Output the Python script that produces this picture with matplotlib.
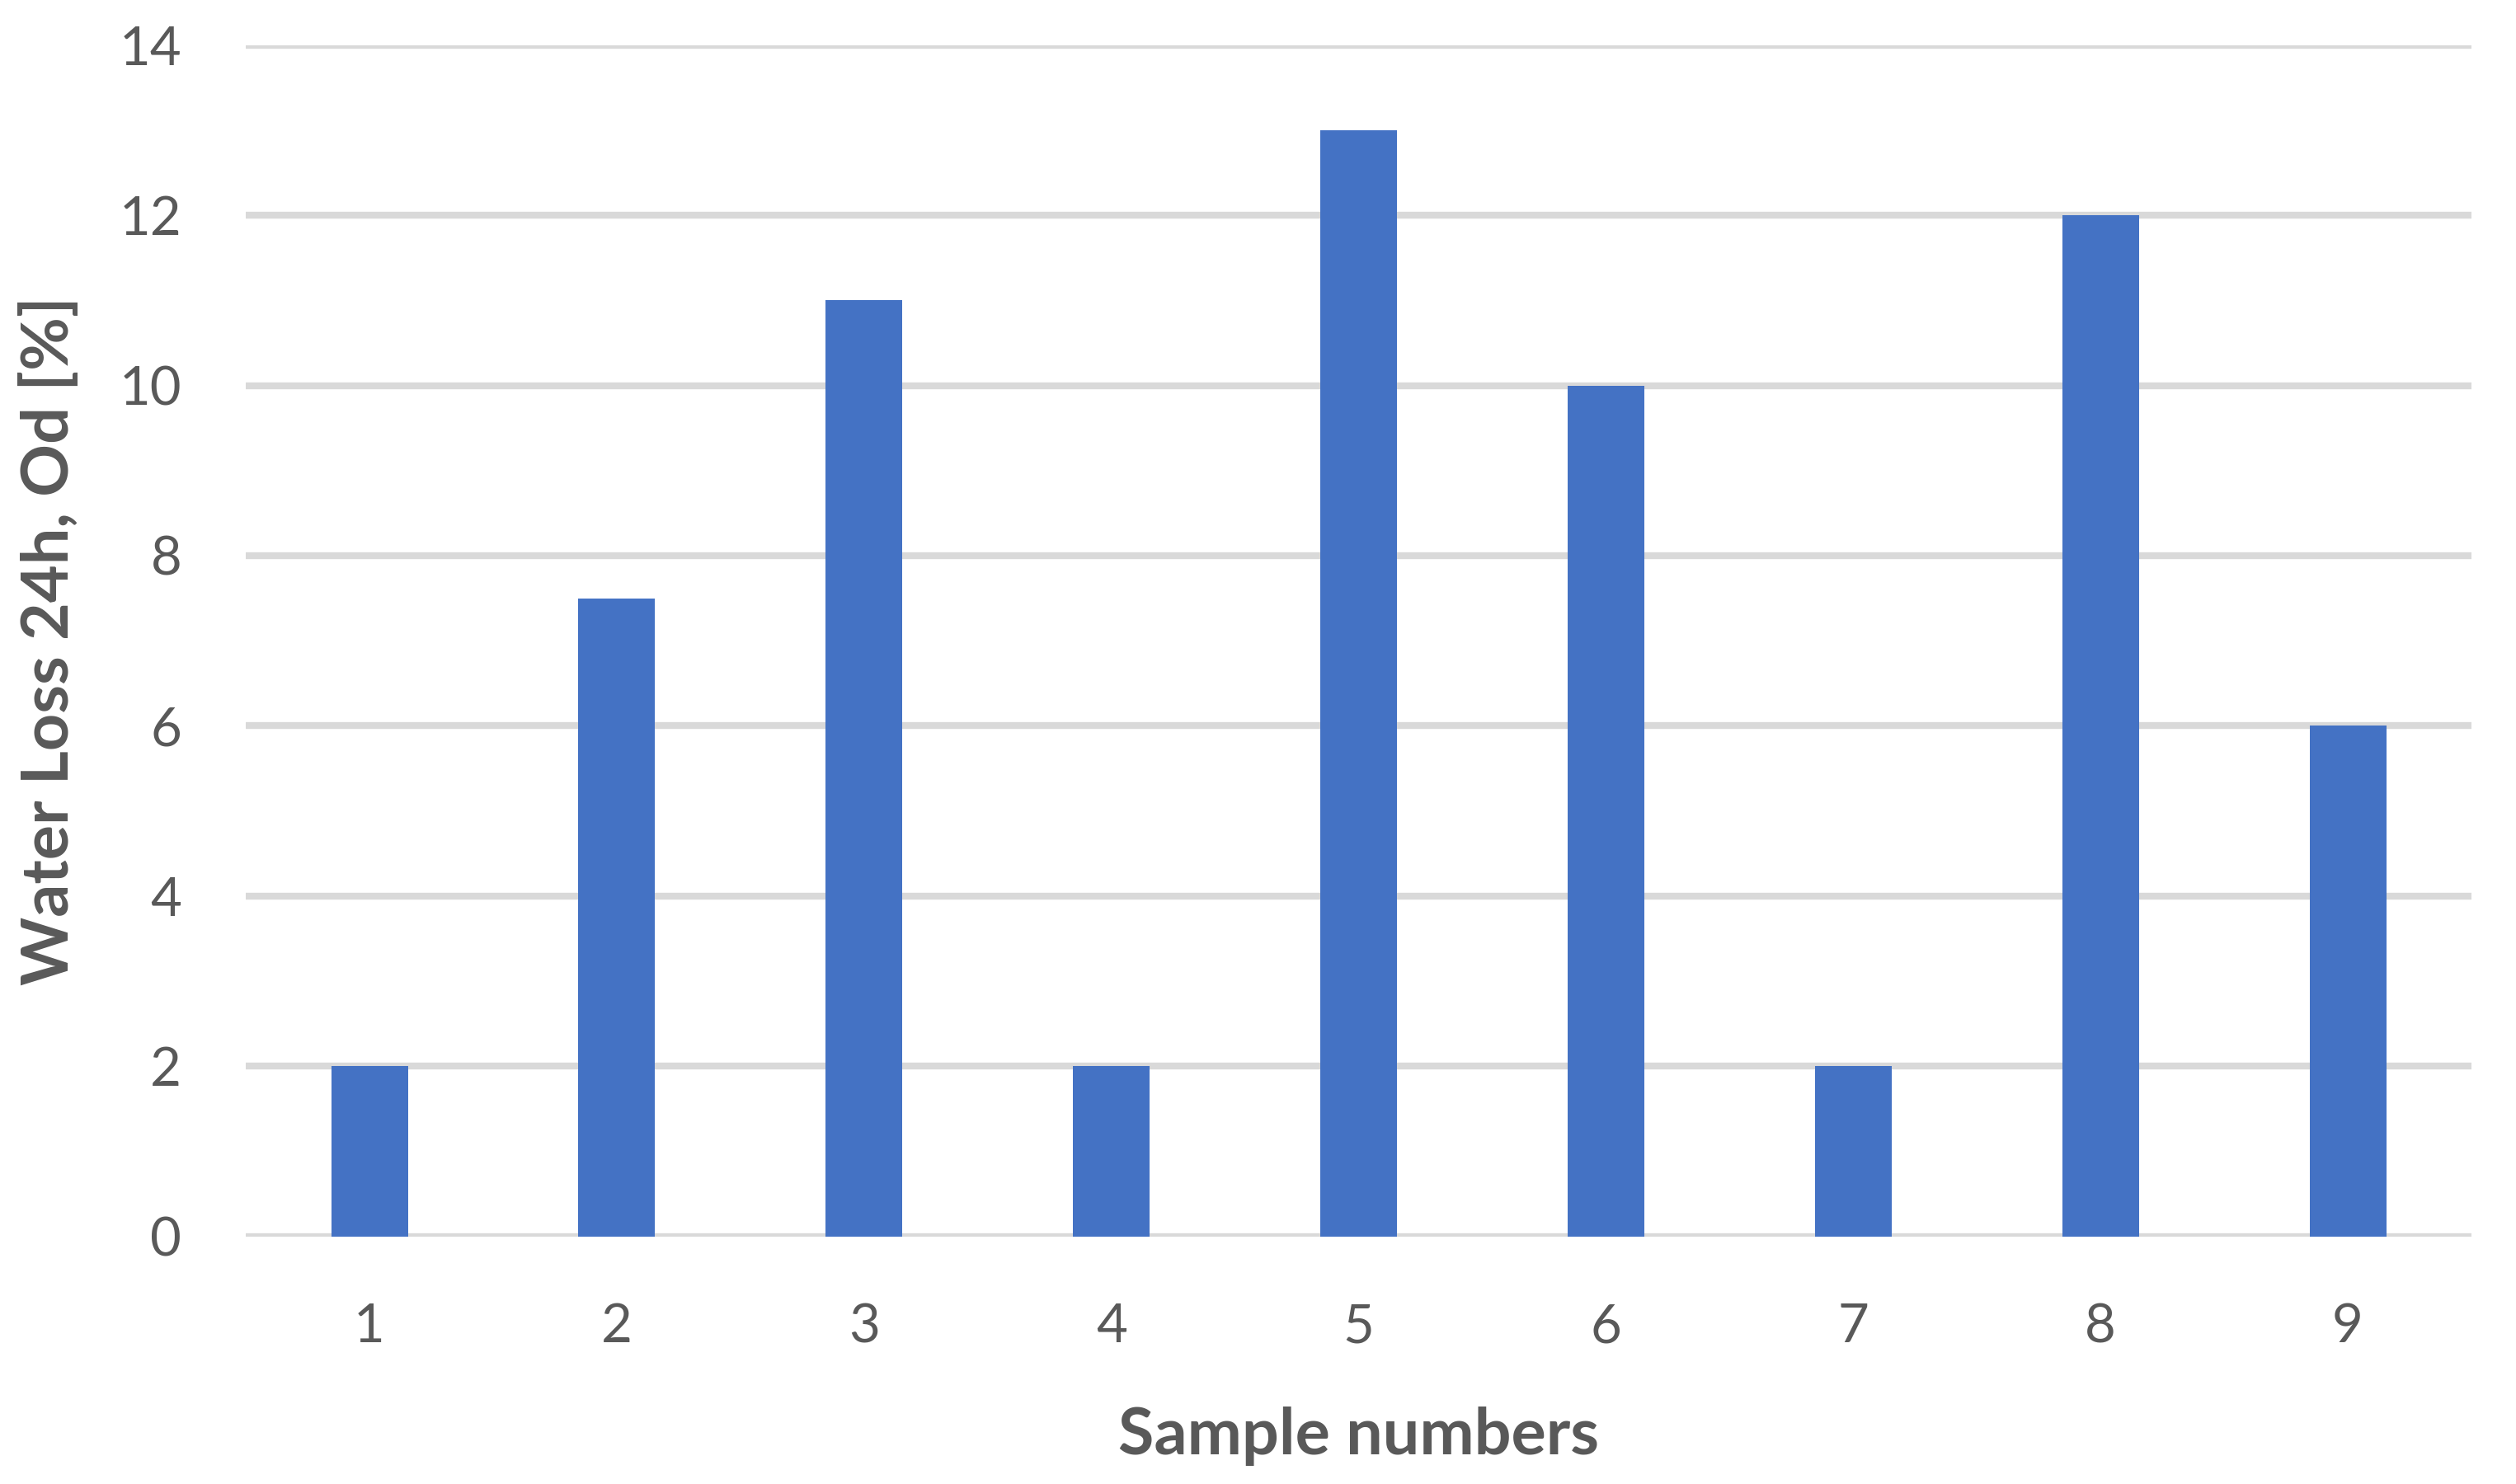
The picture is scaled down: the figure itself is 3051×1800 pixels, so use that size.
import matplotlib.pyplot as plt

samples = ['1', '2', '3', '4', '5', '6', '7', '8', '9']
water_loss = [2, 7.5, 11, 2, 13, 10, 2, 12, 6]
y_ticks = [0, 2, 4, 6, 8, 10, 12, 14]

plt.rcParams['font.family'] = ['Lato', 'DejaVu Sans']

fig = plt.figure(figsize=(30.51, 18), dpi=100)
ax = fig.add_axes([0.0977, 0.1667, 0.8846, 0.803])

x = range(1, len(samples) + 1)
ax.bar(x, water_loss, width=0.31, color='#4472C4', zorder=3)

ax.set_xlim(0.5, len(samples) + 0.5)
ax.set_ylim(0, 14)
ax.set_yticks(y_ticks)
ax.set_xticks(list(x))
ax.set_xticklabels(samples)
ax.grid(axis='y', color='#D9D9D9', linewidth=6, zorder=0)
ax.set_axisbelow(True)
for s in ax.spines.values():
    s.set_visible(False)
ax.tick_params(axis='both', length=0, labelsize=47, labelcolor='#595959')
ax.tick_params(axis='y', pad=56)
ax.tick_params(axis='x', pad=58)

# axis titles, bold
ax.set_xlabel('Sample numbers', fontsize=57, fontweight='bold', color='#595959', labelpad=48)
ax.set_ylabel('Water Loss 24h, Od [%]', fontsize=57, fontweight='bold', color='#595959', labelpad=34)

fig.savefig('out.png', dpi=100)
